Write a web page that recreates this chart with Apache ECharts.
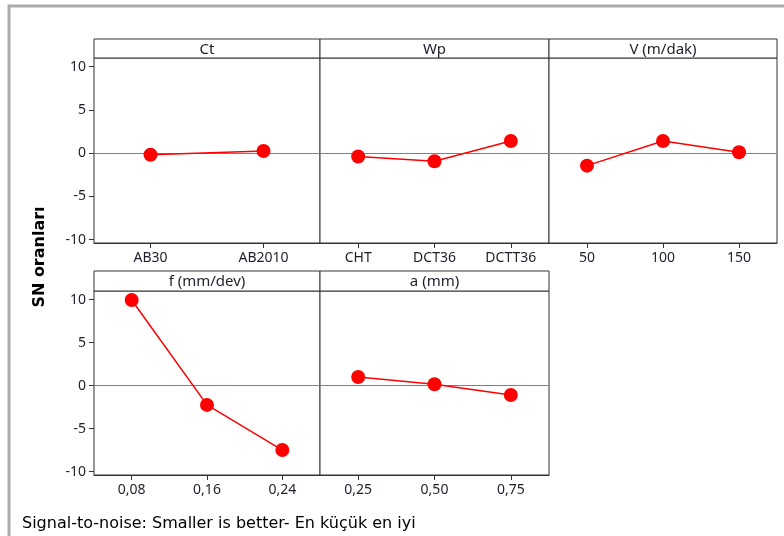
<!DOCTYPE html>
<html><head><meta charset="utf-8">
<script src="https://cdn.jsdelivr.net/npm/echarts@6/dist/echarts.min.js"></script>
<style>html,body{margin:0;padding:0;background:#fff}#c{width:784px;height:536px}</style>
</head><body><div id="c"></div>
<script>
// ---- data ----
const panelTitles = ['Ct', 'Wp', 'V (m/dak)', 'f (mm/dev)', 'a (mm)'];
const ctLevels = ['AB30', 'AB2010'];
const ctValues = [-0.2, 0.25];
const wpLevels = ['CHT', 'DCT36', 'DCTT36'];
const wpValues = [-0.4, -0.95, 1.4];
const vLevels = ['50', '100', '150'];
const vValues = [-1.45, 1.4, 0.1];
const fLevels = ['0,08', '0,16', '0,24'];
const fValues = [9.95, -2.25, -7.5];
const aLevels = ['0,25', '0,50', '0,75'];
const aValues = [1.0, 0.15, -1.1];
const yTickValues = [-10, -5, 0, 5, 10];
const yMin = -10.4, yMax = 11;
const yTitle = 'SN oranları';
const footer = 'Signal-to-noise: Smaller is better- En küçük en iyi';

// ---- layout ----
const FONT = 'Noto Sans';
const TXT = '#1e1e2c';
const cols = [94, 320, 549, 777];
const rows = [{top: 58, bottom: 243, head: 39}, {top: 291, bottom: 475, head: 271}];
const panels = [
  {r: 0, c: 0, cats: ctLevels, vals: ctValues},
  {r: 0, c: 1, cats: wpLevels, vals: wpValues},
  {r: 0, c: 2, cats: vLevels, vals: vValues},
  {r: 1, c: 0, cats: fLevels, vals: fValues},
  {r: 1, c: 1, cats: aLevels, vals: aValues}
];

const grid = [], xAxis = [], yAxis = [], series = [], graphic = [];
panels.forEach((p, i) => {
  const row = rows[p.r];
  const left = cols[p.c], width = cols[p.c + 1] - cols[p.c];
  grid.push({left: left, top: row.top, width: width, height: row.bottom - row.top,
    show: true, borderColor: '#333', borderWidth: 1, backgroundColor: '#fff'});
  xAxis.push({type: 'category', gridIndex: i, data: p.cats, boundaryGap: true,
    axisLine: {show: true, onZero: false, lineStyle: {color: '#333', width: 1}},
    axisTick: {show: true, alignWithLabel: true, length: 5, lineStyle: {color: '#333'}},
    axisLabel: {show: true, color: TXT, fontFamily: FONT, fontSize: 14, margin: 8},
    splitLine: {show: false}});
  const showY = p.c === 0;
  yAxis.push({type: 'value', gridIndex: i, min: yMin, max: yMax,
    axisLine: {show: false},
    axisTick: {show: showY, length: 5, lineStyle: {color: '#333'}, customValues: yTickValues},
    axisLabel: {show: showY, color: TXT, fontFamily: FONT, fontSize: 14, margin: 8, customValues: yTickValues},
    splitLine: {show: false}});
  series.push({type: 'line', xAxisIndex: i, yAxisIndex: i, data: p.vals,
    symbol: 'circle', symbolSize: 14, itemStyle: {color: '#ff0000'},
    lineStyle: {color: '#ff0000', width: 1.5}, animation: false,
    markLine: {silent: true, symbol: 'none', label: {show: false},
      lineStyle: {color: '#808080', width: 1, type: 'solid'}, data: [{yAxis: 0}], z: 1}});
  graphic.push({type: 'rect', shape: {x: left, y: row.head, width: width, height: row.top - row.head},
    style: {fill: '#fff', stroke: '#333', lineWidth: 1}});
  graphic.push({type: 'text', x: left + width / 2, y: (row.head + row.top) / 2 + 1,
    style: {text: panelTitles[i], fill: TXT, font: '15px "' + FONT + '"', textAlign: 'center', textVerticalAlign: 'middle'}});
});
graphic.push({type: 'rect', shape: {x: 9, y: 6, width: 800, height: 560},
  style: {fill: 'none', stroke: '#ababab', lineWidth: 3}});
graphic.push({type: 'text', x: 40, y: 257, rotation: Math.PI / 2,
  style: {text: yTitle, fill: '#000', font: 'bold 16px "DejaVu Sans"', textAlign: 'center', textVerticalAlign: 'middle'}});
graphic.push({type: 'text', x: 22, y: 524,
  style: {text: footer, fill: '#000', font: '16px "DejaVu Sans"', textAlign: 'left', textVerticalAlign: 'middle'}});

const chart = echarts.init(document.getElementById('c'), null, {renderer: 'canvas'});
chart.setOption({animation: false, backgroundColor: '#fff', grid, xAxis, yAxis, series, graphic});
</script></body></html>
